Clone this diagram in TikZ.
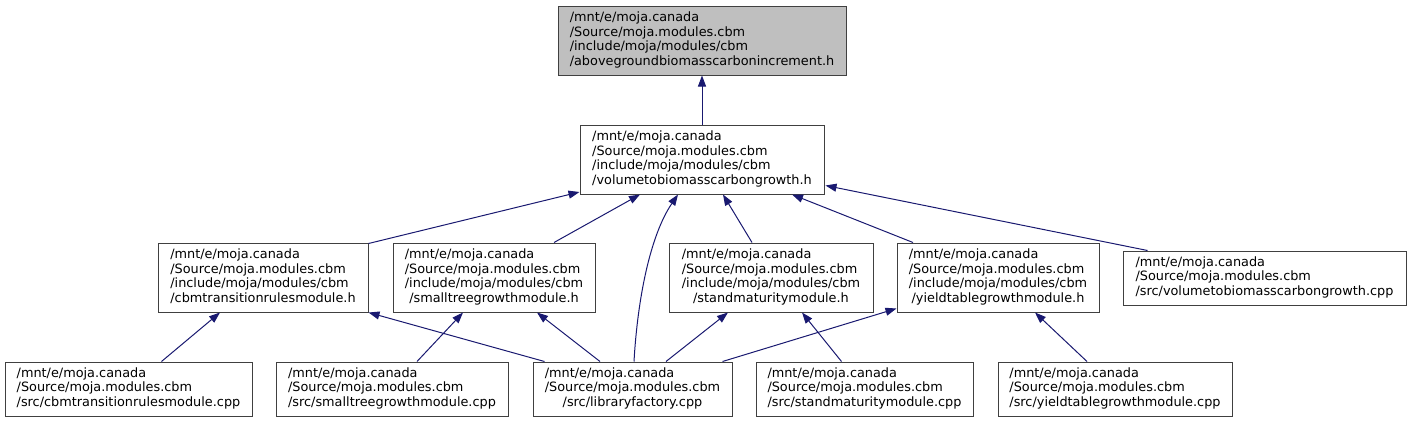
\documentclass[tikz,border=0pt]{standalone}
\usepackage{fontspec}
\setmainfont{DejaVu Sans}
\usetikzlibrary{arrows.meta,calc}
\definecolor{edgeblue}{HTML}{191970}
\definecolor{boxedge}{HTML}{404040}
\definecolor{boxgray}{HTML}{BFBFBF}
% first lines flush left, last line centred
\newcommand{\inclabel}[2]{\begin{tabular}{@{}l@{}}#1\\\multicolumn{1}{@{}c@{}}{#2}\end{tabular}}

\begin{document}
\begin{tikzpicture}[
    x=1pt, y=-1pt,
    % --- Node styles ---
    file/.style={
      rectangle, draw=boxedge, line width=1pt, fill=white,
      inner sep=0pt, minimum height=69pt,
      font=\fontsize{12.85}{14.67}\selectfont,
    },
    header/.style={file},
    source/.style={file, minimum height=54pt},
    current/.style={file, fill=boxgray},
    % --- Arrow styles ---
    incl/.style={-{Triangle[length=11pt, width=8pt]}, line width=1pt, draw=edgeblue},
  ]
    \useasboundingbox (0,0) rectangle (1411,423);

    % ===================== TOP TWO HEADERS =====================
    \node[current, minimum width=288pt] (agbinc) at (702,40.5)
      {\inclabel{/mnt/e/moja.canada\\/Source/moja.modules.cbm\\/include/moja/modules/cbm}{/abovegroundbiomasscarbonincrement.h}};
    \node[header, minimum width=244pt] (volgrowth) at (702,159.5)
      {\inclabel{/mnt/e/moja.canada\\/Source/moja.modules.cbm\\/include/moja/modules/cbm}{/volumetobiomasscarbongrowth.h}};

    % ===================== MODULE HEADERS =====================
    \node[header, minimum width=210pt] (cbmtrh) at (263,277.5)
      {\inclabel{/mnt/e/moja.canada\\/Source/moja.modules.cbm\\/include/moja/modules/cbm}{/cbmtransitionrulesmodule.h}};
    \node[header, minimum width=202pt] (smalltreeh) at (494,277.5)
      {\inclabel{/mnt/e/moja.canada\\/Source/moja.modules.cbm\\/include/moja/modules/cbm}{/smalltreegrowthmodule.h}};
    \node[header, minimum width=204pt] (standh) at (771,277.5)
      {\inclabel{/mnt/e/moja.canada\\/Source/moja.modules.cbm\\/include/moja/modules/cbm}{/standmaturitymodule.h}};
    \node[header, minimum width=202pt] (yieldh) at (998,277.5)
      {\inclabel{/mnt/e/moja.canada\\/Source/moja.modules.cbm\\/include/moja/modules/cbm}{/yieldtablegrowthmodule.h}};
    \node[source, minimum width=283pt] (volcpp) at (1264.5,278)
      {\inclabel{/mnt/e/moja.canada\\/Source/moja.modules.cbm}{/src/volumetobiomasscarbongrowth.cpp}};

    % ===================== SOURCE FILES =====================
    \node[source, minimum width=247pt] (cbmtrcpp) at (128.5,389)
      {\inclabel{/mnt/e/moja.canada\\/Source/moja.modules.cbm}{/src/cbmtransitionrulesmodule.cpp}};
    \node[source, minimum width=232pt] (smalltreecpp) at (392,389)
      {\inclabel{/mnt/e/moja.canada\\/Source/moja.modules.cbm}{/src/smalltreegrowthmodule.cpp}};
    \node[source, minimum width=199pt] (libfact) at (632.5,389)
      {\inclabel{/mnt/e/moja.canada\\/Source/moja.modules.cbm}{/src/libraryfactory.cpp}};
    \node[source, minimum width=217pt] (standcpp) at (864.5,389)
      {\inclabel{/mnt/e/moja.canada\\/Source/moja.modules.cbm}{/src/standmaturitymodule.cpp}};
    \node[source, minimum width=234pt] (yieldcpp) at (1115,389)
      {\inclabel{/mnt/e/moja.canada\\/Source/moja.modules.cbm}{/src/yieldtablegrowthmodule.cpp}};

    % ===================== ARROWS: INTO TOP =====================
    \draw[incl] (volgrowth) -- (agbinc);

    % into volumetobiomasscarbongrowth.h
    \draw[incl] ($(cbmtrh.north east)+(0,1)$) -- ($(volgrowth.south west)+(0,-2.5)$);
    \draw[incl] ($(smalltreeh.north)+(60,0)$) -- ($(volgrowth.south)+(-62,0)$);
    \draw[incl] ($(libfact.north)+(1.5,0)$)
      .. controls ($(libfact.north)+(5,-62)$) and ($(volgrowth.south)+(-52,41)$)
      .. ($(volgrowth.south)+(-24,0)$);
    \draw[incl] ($(standh.north)+(-19,0)$) -- ($(volgrowth.south)+(21,0)$);
    \draw[incl] ($(yieldh.north)+(-85,0)$) -- ($(volgrowth.south)+(90,0)$);
    \draw[incl] ($(volcpp.north west)+(25,0)$) -- ($(volgrowth.south east)+(1,-9)$);

    % ===================== ARROWS: INTO MODULE HEADERS =====================
    \draw[incl] ($(cbmtrcpp.north)+(33,0)$) -- ($(cbmtrh.south)+(-43,0)$);
    \draw[incl] ($(libfact.north west)+(12,0)$) -- (cbmtrh.south east);
    \draw[incl] ($(smalltreecpp.north)+(25,0)$) -- ($(smalltreeh.south)+(-31,0)$);
    \draw[incl] ($(libfact.north)+(-32.5,0)$) -- ($(smalltreeh.south)+(43,0)$);
    \draw[incl] ($(libfact.north)+(33.5,0)$) -- ($(standh.south)+(-43,0)$);
    \draw[incl] ($(libfact.north east)+(-10,0)$) -- ($(yieldh.south west)+(0,-4)$);
    \draw[incl] ($(standcpp.north)+(-23,0)$) -- ($(standh.south)+(31,0)$);
    \draw[incl] ($(yieldcpp.north)+(-28,0)$) -- ($(yieldh.south)+(37,0)$);

  \end{tikzpicture}
\end{document}
